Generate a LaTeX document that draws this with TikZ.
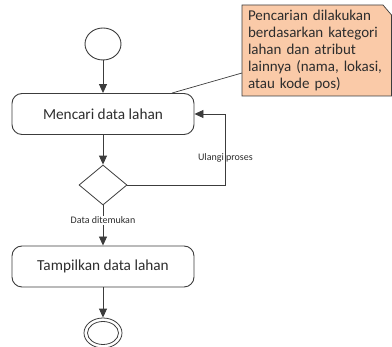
\documentclass[tikz,border=0pt]{standalone}
\usepackage{fontspec}
\setmainfont{Carlito}
\usetikzlibrary{arrows.meta,shapes.geometric}
\definecolor{linegray}{RGB}{60,60,60}
\definecolor{textgray}{RGB}{45,45,45}
\definecolor{notefill}{RGB}{250,202,168}
\begin{document}
\begin{tikzpicture}[x=1pt,y=-1pt,
  flow/.style={draw=linegray,line width=0.9pt,-{Triangle[length=9pt,width=8pt]}},
  plain/.style={draw=linegray,line width=0.7pt},
  activity/.style={draw=linegray,line width=0.9pt,rounded corners=10pt,
    minimum width=182pt,minimum height=41pt,inner sep=0pt,
    font=\fontsize{15.3}{17}\selectfont,text=textgray},
  startnode/.style={draw=linegray,line width=0.9pt,ellipse,
    minimum width=36pt,minimum height=32pt,inner sep=0pt},
  endring/.style={draw=linegray,line width=0.8pt,ellipse,inner sep=0pt},
  decision/.style={draw=linegray,line width=0.8pt,diamond,
    minimum width=48pt,minimum height=40pt,inner sep=0pt},
  guard/.style={font=\fontsize{10}{12}\selectfont,text=textgray,inner sep=1pt},
  notetext/.style={font=\fontsize{15}{17}\selectfont,text=textgray,
    text width=140pt,align=left,inner sep=0pt}]
\useasboundingbox (0,0) rectangle (392,347);

% comment note outline with folded corner
\coordinate (nsw) at (242,96);
\coordinate (nnw) at (242,5);
\coordinate (nfold) at (383,5);
\coordinate (nfoldb) at (391.5,15);
\coordinate (nse) at (391.5,96);
\filldraw[plain,fill=notefill] (nsw) -- (nnw) -- (nfold) -- (nfoldb) -- (nse) -- cycle;
\node[notetext] (note) at (318,51) {Pencarian dilakukan\\berdasarkan kategori\\lahan dan atribut\\lainnya (nama, lokasi,\\atau kode pos)};

% initial node
\node[startnode] (start) at (103,44) {};

% activities and decision
\node[activity] (search) at (103,114) {Mencari data lahan};
\node[decision] (found) at (103,185) {};
\node[activity] (show) at (103,266.5) {Tampilkan data lahan};

% final node
\node[endring,minimum width=38pt,minimum height=30pt] (final) at (103,333) {};
\node[endring,minimum width=31pt,minimum height=23pt] (finalin) at (103,333) {};

% note anchor line
\coordinate (anchorpt) at (242,73);
\draw[plain] (anchorpt) -- ([xshift=69pt]search.north);

% control flow
\draw[flow] (start) -- (search);
\draw[flow] (search) -- (found);
\draw[flow] (found.south) -- node[guard,fill=white,pos=0.37] {Data ditemukan} (show.north);
\draw[flow] (found.east) -- ++(98,0) |- node[guard,pos=0.19] {Ulangi proses} (search.east);
\draw[flow] (show) -- (final);
\end{tikzpicture}
\end{document}
